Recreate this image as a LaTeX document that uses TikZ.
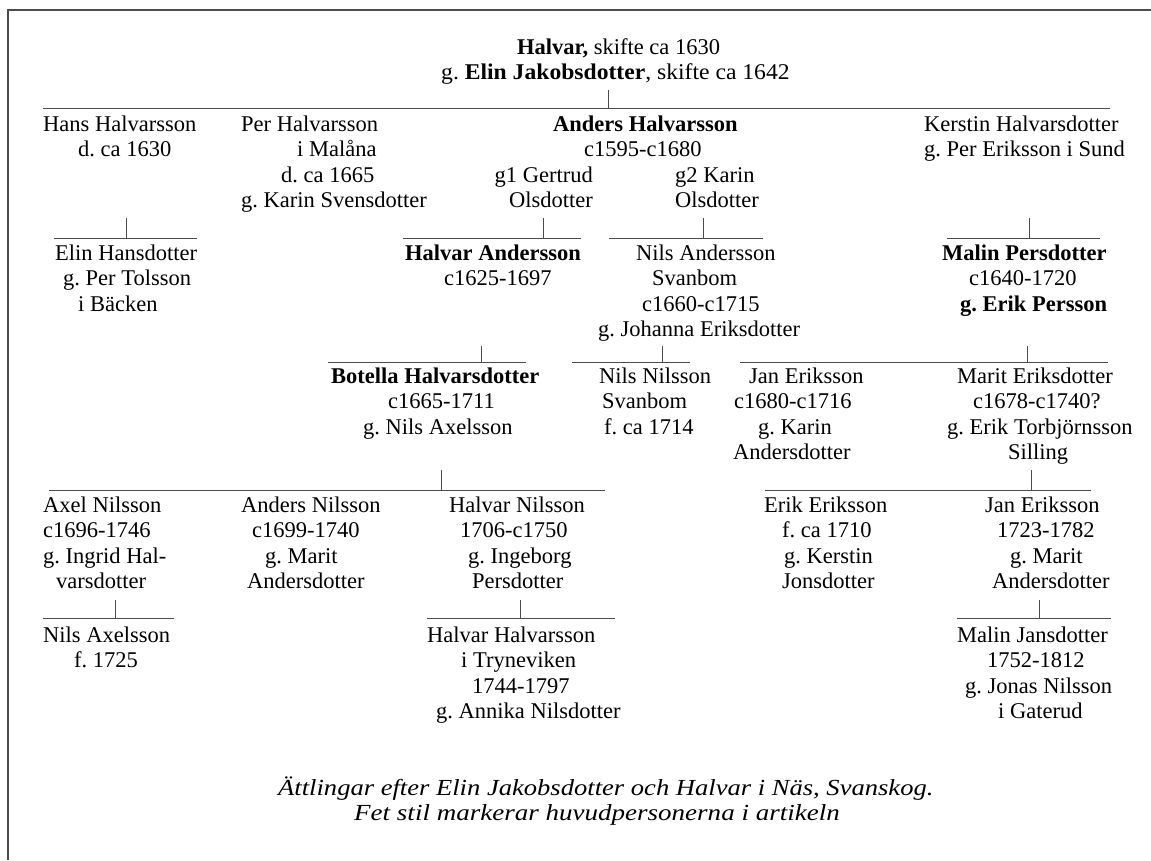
\documentclass[tikz,border=0pt]{standalone}
\usepackage{fontspec}
\usepackage{graphicx}
\setmainfont{Liberation Serif}
\frenchspacing
\newcommand\ind[1]{\hspace*{#1pt}}
\newcommand\persnode[4]{\node[person] (#1) at (#2,#3) {\begin{tabular}[t]{@{}l@{}}#4\end{tabular}};}
\newcommand\kinline[6]{%
  \coordinate (#1l) at (#3,#2); \coordinate (#1r) at (#4,#2);
  \coordinate (#1t) at (#5,#6); \coordinate (#1b) at (#5,#2);
  \draw[kinbar] (#1l) -- (#1r); \draw[kinbar] (#1t) -- (#1b);}
\begin{document}
\begin{tikzpicture}[x=1pt,y=-1pt,
  person/.style={anchor=base west, inner sep=0pt, font=\fontsize{22.5}{25.5}\selectfont},
  kinbar/.style={draw=black!70, line width=0.9pt},
  frameline/.style={draw=black!70, line width=1.6pt}]
\useasboundingbox (0,0) rectangle (1151,860);
% frame
\coordinate (fTL) at (8,10); \coordinate (fTR) at (1151,10); \coordinate (fBL) at (8,860);
\draw[frameline] (fTR) -- (fTL) -- (fBL);
% top couple
\persnode{top}{441}{54}{\ind{76}\textbf{Halvar,} skifte ca 1630\\ \scalebox{1.05}[1]{g. \textbf{Elin Jakobsdotter}, skifte ca 1642}}
\kinline{b1}{108}{43}{1110}{608}{90}
% row B
\persnode{hans}{43}{131}{Hans Halvarsson\\ \ind{35}d. ca 1630}
\persnode{per}{239}{131}{\ind{2}Per Halvarsson\\ \ind{58}i Malåna\\ \ind{42}d. ca 1665\\ \ind{2}g. Karin Svensdotter}
\persnode{anders}{553}{131}{\textbf{Anders Halvarsson}\\ \ind{31}c1595-c1680}
\node[person, anchor=base east] (gertrud) at (593,182) {\begin{tabular}[t]{@{}r@{}}g1 Gertrud\\ Olsdotter\end{tabular}};
\persnode{karin}{675}{182}{g2 Karin\\ Olsdotter}
\persnode{kerstin}{924}{131}{Kerstin Halvarsdotter\\ g. Per Eriksson i Sund}
% bars 2
\kinline{b2a}{238}{54}{197}{126}{218}
\kinline{b2b}{238}{403}{581}{543}{218}
\kinline{b2c}{238}{609}{763}{703}{218}
\kinline{b2d}{238}{947}{1100}{1029}{218}
% row C
\persnode{elin}{55}{260}{Elin Hansdotter\\ \ind{8}g. Per Tolsson\\ \ind{23}i Bäcken}
\persnode{halvarA}{405}{260}{\textbf{Halvar Andersson}\\ \ind{39}c1625-1697}
\persnode{nilsA}{596}{260}{\ind{40}Nils Andersson\\ \ind{56}Svanbom\\ \ind{46}c1660-c1715\\ \ind{2}g. Johanna Eriksdotter}
\persnode{malinP}{942}{260}{\textbf{Malin Persdotter}\\ \ind{27}c1640-1720\\ \ind{18}\textbf{g. Erik Persson}}
% bars 3
\kinline{b3a}{362}{328}{526}{481}{346}
\kinline{b3b}{362}{572}{690}{662}{346}
\kinline{b3c}{362}{740}{1108}{1027}{346}
% row D
\persnode{botella}{331}{383}{\textbf{Botella Halvarsdotter}\\ \ind{57}c1665-1711\\ \ind{32}g. Nils Axelsson}
\persnode{nilsN}{599}{383}{Nils Nilsson\\ \ind{3}Svanbom\\ \ind{5}f. ca 1714}
\persnode{janE}{733}{383}{\ind{16}Jan Eriksson\\ \ind{1}c1680-c1716\\ \ind{25}g. Karin\\ Andersdotter}
\persnode{marit}{945}{383}{\ind{12}Marit Eriksdotter\\ \ind{28}c1678-c1740?\\ \ind{2}g. Erik Torbjörnsson\\ \ind{63}Silling}
% bars 4
\kinline{b4a}{490}{49}{605}{441}{470}
\kinline{b4b}{490}{765}{1091}{1031}{470}
% row E
\persnode{axel}{43}{512}{Axel Nilsson\\ c1696-1746\\ g. Ingrid Hal-\\ \ind{13}varsdotter}
\persnode{andersN}{241}{512}{Anders Nilsson\\ \ind{11}c1699-1740\\ \ind{24}g. Marit\\ \ind{6}Andersdotter}
\persnode{halvarN}{449}{512}{Halvar Nilsson\\ \ind{11}1706-c1750\\ \ind{19}g. Ingeborg\\ \ind{23}Persdotter}
\persnode{erikE}{764}{512}{Erik Eriksson\\ \ind{18}f. ca 1710\\ \ind{20}g. Kerstin\\ \ind{18}Jonsdotter}
\persnode{janE2}{985}{512}{Jan Eriksson\\ \ind{12}1723-1782\\ \ind{25}g. Marit\\ \ind{7}Andersdotter}
% bars 5
\kinline{b5a}{618}{43}{174}{115}{600}
\kinline{b5b}{618}{427}{615}{520}{600}
\kinline{b5c}{618}{957}{1111}{1039}{600}
% row F
\persnode{nilsAx}{43}{642}{Nils Axelsson\\ \ind{31}f. 1725}
\persnode{halvarH}{427}{642}{Halvar Halvarsson\\ \ind{34}i Tryneviken\\ \ind{45}1744-1797\\ \ind{9}g. Annika Nilsdotter}
\persnode{malinJ}{957}{642}{Malin Jansdotter\\ \ind{30}1752-1812\\ \ind{8}g. Jonas Nilsson\\ \ind{41}i Gaterud}
% caption
\node[person, font=\fontsize{23}{25}\selectfont\itshape] (caption) at (278,795) {\begin{tabular}[t]{@{}l@{}}\scalebox{1.155}[1]{Ättlingar efter Elin Jakobsdotter och Halvar i Näs, Svanskog.}\\ \ind{76}\scalebox{1.175}[1]{Fet stil markerar huvudpersonerna i artikeln}\end{tabular}};
\end{tikzpicture}
\end{document}
